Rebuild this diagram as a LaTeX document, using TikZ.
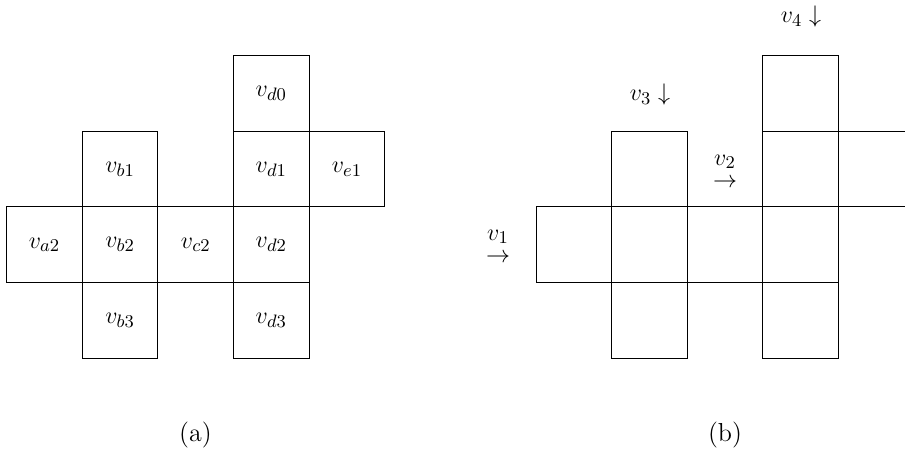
\documentclass[tikz,border=0pt]{standalone}
\begin{document}
\begin{tikzpicture}[x=0.5pt,y=-0.5pt,
  cell/.style={draw, line width=0.5pt, inner sep=0pt, minimum size=37.8pt, font=\fontsize{13}{15}\selectfont},
  lbl/.style={inner sep=0pt, font=\fontsize{13}{15}\selectfont, align=center}]
\useasboundingbox (0,0) rectangle (905,454);
\clip (0,0) rectangle (905,454);
% (a)
\node[cell] (d0) at (271.3,93.5) {$v_{d0}$};
\node[cell] (b1) at (120.1,169.1) {$v_{b1}$};
\node[cell] (d1) at (271.3,169.1) {$v_{d1}$};
\node[cell] (e1) at (346.9,169.1) {$v_{e1}$};
\node[cell] (a2) at (44.5,244.7) {$v_{a2}$};
\node[cell] (b2) at (120.1,244.7) {$v_{b2}$};
\node[cell] (c2) at (195.7,244.7) {$v_{c2}$};
\node[cell] (d2) at (271.3,244.7) {$v_{d2}$};
\node[cell] (b3) at (120.1,320.3) {$v_{b3}$};
\node[cell] (d3) at (271.3,320.3) {$v_{d3}$};
\node[lbl] (capa) at (195.5,435) {(a)};
% (b)
\node[cell] (r40) at (800.6,93.5) {};
\node[cell] (r31) at (649.4,169.1) {};
\node[cell] (r32) at (649.4,244.7) {};
\node[cell] (r33) at (649.4,320.3) {};
\node[cell] (r12) at (573.8,244.7) {};
\node[cell] (r22) at (725,244.7) {};
\node[cell] (r41) at (800.6,169.1) {};
\node[cell] (r42) at (800.6,244.7) {};
\node[cell] (r43) at (800.6,320.3) {};
\node[cell] (r51) at (876.2,169.1) {};
\node[lbl] (l4) at (801,17) {$v_4\downarrow$};
\node[lbl] (l3) at (650,95) {$v_3\downarrow$};
\node[lbl] (l2a) at (725,162) {$v_2$};
\node[lbl] (l2b) at (725,183) {$\rightarrow$};
\node[lbl] (l1a) at (498,237) {$v_1$};
\node[lbl] (l1b) at (498,258) {$\rightarrow$};
\node[lbl] (capb) at (725,435) {(b)};
\end{tikzpicture}
\end{document}
